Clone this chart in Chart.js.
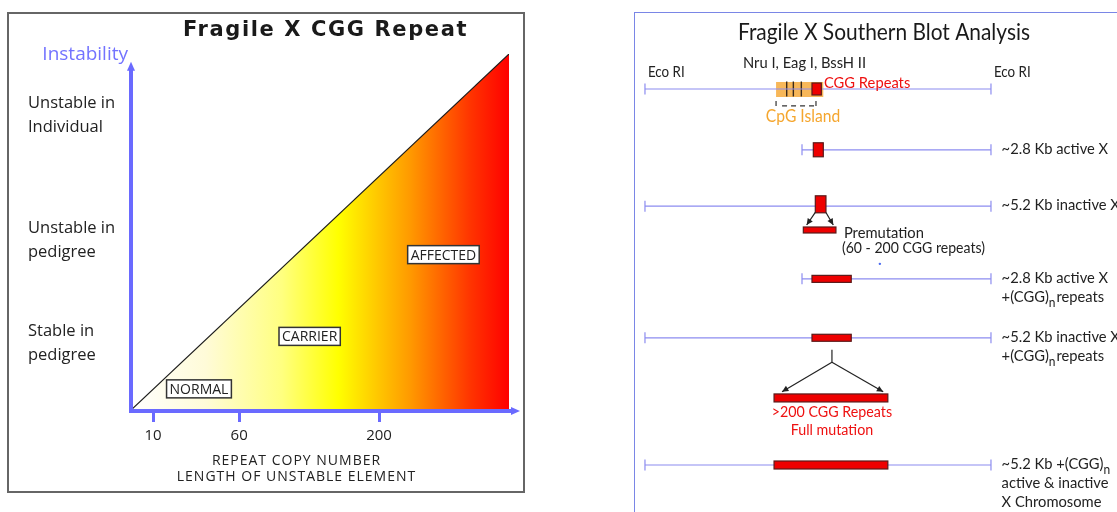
<!DOCTYPE html>
<html>
<head>
<meta charset="utf-8">
<script src="https://cdn.jsdelivr.net/npm/chart.js@4.4.1/dist/chart.umd.min.js"></script>
<style>
    body { margin: 0; background: #fff; }
    #page { position: relative; width: 1117px; height: 512px; overflow: hidden; }
    #leftFrame { position: absolute; left: 7px; top: 12px; width: 514px; height: 477px; border: 2px solid #666; }
    #rightFrame { position: absolute; left: 634px; top: 12px; width: 500px; height: 520px;
        border-left: 1.5px solid #7a86e6; border-top: 1.5px solid #7a86e6; }
    canvas { position: absolute; top: 0; }
    #repeatChart { left: 0; }
    #blotChart { left: 560px; }
</style>
</head>
<body>
<div id="page">
    <div id="leftFrame"></div>
    <div id="rightFrame"></div>
    <canvas id="repeatChart" width="560" height="512"></canvas>
    <canvas id="blotChart" width="557" height="512"></canvas>
</div>
<script>
    /*******************************************************************
     * data - left: instability against repeat copy number (schematic 0-100 axes)
     *******************************************************************/
    var repeatTickLabels = ['10', '60', '200'];
    var repeatTickAt = [6.1, 28.8, 65.7];
    var stabilityLabels = [['Stable in', 'pedigree'], ['Unstable in', 'pedigree'], ['Unstable in', 'Individual']];
    var stabilityAt = [19, 47.8, 82.8];
    var riskX = [0, 100];
    var riskY = [0, 100];
    var zoneNames = ['NORMAL', 'CARRIER', 'AFFECTED'];
    var zoneX = [18.2, 47.4, 82.7];
    var zoneY = [6.2, 20.9, 43.8];

    /*******************************************************************
     * data - right: Southern blot fragments (x in kb from Eco RI, y = lane)
     *******************************************************************/
    var fragmentFrom = [0, 2.36, 0, 2.36, 0, 0];
    var fragmentTo = [5.2, 5.2, 5.2, 5.2, 5.2, 5.2];
    var fragmentLane = [0, 0.97, 1.87, 3.03, 3.97, 6.0];
    var fragmentLabels = [
        [],
        ['~2.8 Kb active X'],
        ['~5.2 Kb inactive X'],
        ['~2.8 Kb active X', '+(CGG){n}repeats'],
        ['~5.2 Kb inactive X', '+(CGG){n}repeats'],
        ['~5.2 Kb +(CGG){n}', 'active & inactive', 'X Chromosome']
    ];
    var siteKb = [2.13, 2.23, 2.35];          // Nru I, Eag I, BssH II
    var islandFrom = 1.97;
    var islandTo = 2.68;
    var repeatFrom = [2.51, 2.53, 2.56, 2.38, 2.51, 2.51, 1.94, 1.94];
    var repeatTo = [2.65, 2.68, 2.72, 2.87, 3.10, 3.10, 3.65, 3.65];
    var repeatLane = [0, 0.97, 1.84, 2.25, 3.03, 3.97, 4.93, 6.0];
    var strayDot = [{ x: 3.53, y: 2.79 }];

    /*******************************************************************
     * styles
     *******************************************************************/
    var CHART_FONT = "'Open Sans', 'Noto Sans', sans-serif";
    var BLOT_FONT = "Lato, 'Open Sans', sans-serif";
    var SQUEEZE = 0.92;
    var AXIS_BLUE = '#6a6aff';
    var LINE_BLUE = '#8c8cf0';
    var BOX_RED = '#ee0000';
    var repeatBoxHeight = [12, 14, 17, 6, 7, 7, 8, 8];

    function riskGradient(context) {
        var area = context.chart.chartArea;
        if (!area) {
            return '#ffff00';
        }
        var g = context.chart.ctx.createLinearGradient(area.left, 0, area.right, 0);
        g.addColorStop(0, '#ffffff');
        g.addColorStop(0.2, '#fffbd8');
        g.addColorStop(0.4, '#ffff80');
        g.addColorStop(0.55, '#ffff00');
        g.addColorStop(0.74, '#ff9900');
        g.addColorStop(0.9, '#ff3300');
        g.addColorStop(1, '#ff0000');
        return g;
    }

    function arrowHead(ctx, x1, y1, x2, y2, size) {
        var a = Math.atan2(y2 - y1, x2 - x1);
        ctx.beginPath();
        ctx.moveTo(x2, y2);
        ctx.lineTo(x2 - size * Math.cos(a - 0.45), y2 - size * Math.sin(a - 0.45));
        ctx.lineTo(x2 - size * Math.cos(a + 0.45), y2 - size * Math.sin(a + 0.45));
        ctx.closePath();
        ctx.fill();
    }

    function arrow(ctx, x1, y1, x2, y2) {
        ctx.beginPath();
        ctx.moveTo(x1, y1);
        ctx.lineTo(x2, y2);
        ctx.stroke();
        arrowHead(ctx, x1, y1, x2, y2, 7);
    }

    // slightly condensed text, to get close to the narrow face of the original
    function blotText(ctx, text, x, y, size, align, color) {
        ctx.save();
        ctx.translate(x, y);
        ctx.scale(SQUEEZE, 1);
        ctx.font = size + 'px ' + BLOT_FONT;
        ctx.textAlign = align;
        ctx.textBaseline = 'middle';
        ctx.fillStyle = color;
        ctx.fillText(text, 0, 0);
        ctx.restore();
    }

    // left aligned text with a subscript "n" wherever {n} appears
    function richText(ctx, text, x, y, size, color) {
        var parts = text.split('{n}');
        var cx = 0;
        ctx.save();
        ctx.translate(x, y);
        ctx.scale(SQUEEZE, 1);
        ctx.textAlign = 'left';
        ctx.textBaseline = 'middle';
        ctx.fillStyle = color;
        for (var i = 0; i < parts.length; i++) {
            ctx.font = size + 'px ' + BLOT_FONT;
            ctx.fillText(parts[i], cx, 0);
            cx += ctx.measureText(parts[i]).width;
            if (i < parts.length - 1) {
                ctx.font = (size - 3) + 'px ' + BLOT_FONT;
                ctx.fillText('n', cx, 6);
                cx += ctx.measureText('n').width + 1;
            }
        }
        ctx.restore();
    }

    /*******************************************************************
     * left chart
     *******************************************************************/
    var repeatDecor = {
        id: 'repeatDecor',
        afterDatasetsDraw: function (chart) {
            var ctx = chart.ctx;
            var xs = chart.scales.x;
            var ys = chart.scales.y;
            var area = chart.chartArea;
            var ox = xs.getPixelForValue(0) + 1;
            var oy = ys.getPixelForValue(0);
            var yTip = ys.getPixelForValue(97.8);
            var xTip = xs.getPixelForValue(102.9);
            ctx.save();
            ctx.strokeStyle = AXIS_BLUE;
            ctx.fillStyle = AXIS_BLUE;
            ctx.lineWidth = 4;
            ctx.beginPath();
            ctx.moveTo(ox, oy + 2);
            ctx.lineTo(ox, yTip + 6);
            ctx.moveTo(ox - 2, oy);
            ctx.lineTo(xTip - 6, oy);
            ctx.stroke();
            ctx.beginPath();
            ctx.moveTo(ox, yTip);
            ctx.lineTo(ox - 4, yTip + 9);
            ctx.lineTo(ox + 4, yTip + 9);
            ctx.closePath();
            ctx.fill();
            ctx.beginPath();
            ctx.moveTo(xTip, oy);
            ctx.lineTo(xTip - 9, oy - 4);
            ctx.lineTo(xTip - 9, oy + 4);
            ctx.closePath();
            ctx.fill();

            // zone boxes
            ctx.font = '14px ' + CHART_FONT;
            ctx.textAlign = 'center';
            ctx.textBaseline = 'middle';
            for (var i = 0; i < zoneNames.length; i++) {
                var px = xs.getPixelForValue(zoneX[i]);
                var py = ys.getPixelForValue(zoneY[i]);
                var w = ctx.measureText(zoneNames[i]).width + 6;
                ctx.fillStyle = '#ffffff';
                ctx.fillRect(px - w / 2, py - 9, w, 18);
                ctx.strokeStyle = '#333';
                ctx.lineWidth = 1.5;
                ctx.strokeRect(px - w / 2, py - 9, w, 18);
                ctx.fillStyle = '#222';
                ctx.fillText(zoneNames[i], px, py + 1);
            }

            // titles
            var cx = (area.left + area.right) / 2;
            ctx.fillStyle = '#1a1a1a';
            ctx.font = 'bold 21px "DejaVu Sans", sans-serif';
            ctx.letterSpacing = '1.6px';
            ctx.fillText('Fragile X CGG Repeat', cx + 6, 31);
            ctx.letterSpacing = '1px';
            ctx.font = '14px ' + CHART_FONT;
            ctx.fillStyle = '#222';
            ctx.fillText('REPEAT COPY NUMBER', cx - 23, 461);
            ctx.fillText('LENGTH OF UNSTABLE ELEMENT', cx - 23, 477);
            ctx.letterSpacing = '0px';
            ctx.textAlign = 'right';
            ctx.fillStyle = '#7373ff';
            ctx.font = '19px ' + CHART_FONT;
            ctx.fillText('Instability', ox - 3, 55);
            ctx.restore();
        }
    };

    var repeatChart = new Chart(document.getElementById('repeatChart').getContext('2d'), {
        type: 'line',
        data: {
            datasets: [{
                data: riskX.map(function (x, i) { return { x: x, y: riskY[i] }; }),
                fill: 'origin',
                backgroundColor: riskGradient,
                borderColor: '#1a1a1a',
                borderWidth: 1.2,
                pointRadius: 0,
                tension: 0
            }]
        },
        options: {
            responsive: false,
            animation: false,
            layout: { autoPadding: false, padding: { left: 28, top: 54, right: 51, bottom: 0 } },
            plugins: {
                legend: { display: false },
                tooltip: { enabled: false }
            },
            scales: {
                x: {
                    type: 'linear',
                    min: 0,
                    max: 100,
                    afterBuildTicks: function (scale) {
                        scale.ticks = repeatTickAt.map(function (v) { return { value: v }; });
                    },
                    afterFit: function (scale) { scale.height = 101; },
                    grid: { display: true, drawOnChartArea: false, drawTicks: true, tickLength: 11, color: AXIS_BLUE, lineWidth: 3 },
                    border: { display: false },
                    ticks: {
                        autoSkip: false,
                        maxRotation: 0,
                        padding: 5,
                        color: '#222',
                        font: { family: CHART_FONT, size: 15 },
                        callback: function (v, i) { return repeatTickLabels[i]; }
                    }
                },
                y: {
                    type: 'linear',
                    min: 0,
                    max: 100,
                    afterBuildTicks: function (scale) {
                        scale.ticks = stabilityAt.map(function (v) { return { value: v }; });
                    },
                    afterFit: function (scale) { scale.width = 102; },
                    grid: { display: false },
                    border: { display: false },
                    ticks: {
                        autoSkip: false,
                        crossAlign: 'far',
                        padding: 0,
                        color: '#222',
                        font: { family: CHART_FONT, size: 16.5, lineHeight: 1.45 },
                        callback: function (v, i) { return stabilityLabels[i]; }
                    }
                }
            }
        },
        plugins: [repeatDecor]
    });

    /*******************************************************************
     * right chart
     *******************************************************************/
    var blotDecor = {
        id: 'blotDecor',
        beforeDatasetsDraw: function (chart) {
            var ctx = chart.ctx;
            var xs = chart.scales.x;
            var ys = chart.scales.y;
            var y0 = ys.getPixelForValue(0);
            ctx.save();
            ctx.fillStyle = 'rgba(246, 170, 60, 0.85)';
            ctx.fillRect(xs.getPixelForValue(islandFrom), y0 - 7, xs.getPixelForValue(islandTo) - xs.getPixelForValue(islandFrom), 15);
            ctx.restore();
        },
        afterDatasetsDraw: function (chart) {
            var ctx = chart.ctx;
            var xs = chart.scales.x;
            var ys = chart.scales.y;
            var i, j;
            ctx.save();

            // repeat boxes
            ctx.fillStyle = BOX_RED;
            ctx.strokeStyle = '#5a1a1a';
            ctx.lineWidth = 1.2;
            for (i = 0; i < repeatFrom.length; i++) {
                var x1 = xs.getPixelForValue(repeatFrom[i]);
                var x2 = xs.getPixelForValue(repeatTo[i]);
                var yc = ys.getPixelForValue(repeatLane[i]);
                var h = repeatBoxHeight[i];
                ctx.fillRect(x1, yc - h / 2, x2 - x1, h);
                ctx.strokeRect(x1, yc - h / 2, x2 - x1, h);
            }

            // CpG island bracket
            ctx.strokeStyle = '#333';
            ctx.lineWidth = 1.2;
            var bx1 = xs.getPixelForValue(islandFrom);
            var bx2 = xs.getPixelForValue(2.57);
            var by1 = ys.getPixelForValue(0.19);
            var by2 = ys.getPixelForValue(0.27);
            ctx.beginPath();
            ctx.moveTo(bx1, by1);
            ctx.lineTo(bx1, by2);
            ctx.moveTo(bx2, by1);
            ctx.lineTo(bx2, by2);
            ctx.stroke();
            ctx.setLineDash([5, 4]);
            ctx.beginPath();
            ctx.moveTo(bx1 + 6, by2);
            ctx.lineTo(bx2, by2);
            ctx.stroke();
            ctx.setLineDash([]);

            // expansion arrows
            ctx.strokeStyle = '#222';
            ctx.fillStyle = '#222';
            arrow(ctx, xs.getPixelForValue(2.56), ys.getPixelForValue(1.97), xs.getPixelForValue(2.43), ys.getPixelForValue(2.17));
            arrow(ctx, xs.getPixelForValue(2.72), ys.getPixelForValue(1.97), xs.getPixelForValue(2.83), ys.getPixelForValue(2.17));
            ctx.beginPath();
            ctx.moveTo(xs.getPixelForValue(2.81), ys.getPixelForValue(4.16));
            ctx.lineTo(xs.getPixelForValue(2.81), ys.getPixelForValue(4.36));
            ctx.stroke();
            arrow(ctx, xs.getPixelForValue(2.81), ys.getPixelForValue(4.36), xs.getPixelForValue(2.06), ys.getPixelForValue(4.83));
            arrow(ctx, xs.getPixelForValue(2.81), ys.getPixelForValue(4.36), xs.getPixelForValue(3.58), ys.getPixelForValue(4.83));

            // labels
            blotText(ctx, 'Eco RI', xs.getPixelForValue(0.045), ys.getPixelForValue(-0.27), 14.5, 'left', '#222');
            blotText(ctx, 'Eco RI', xs.getPixelForValue(5.245), ys.getPixelForValue(-0.27), 14.5, 'left', '#222');
            blotText(ctx, 'Nru I, Eag I, BssH II', xs.getPixelForValue(1.473), ys.getPixelForValue(-0.415), 16, 'left', '#222');
            blotText(ctx, 'CGG Repeats', xs.getPixelForValue(2.69), ys.getPixelForValue(-0.096), 16, 'left', '#ee1111');
            blotText(ctx, 'CpG Island', xs.getPixelForValue(2.375), ys.getPixelForValue(0.447), 17, 'center', '#f5a62e');
            blotText(ctx, '>200 CGG Repeats', xs.getPixelForValue(2.81), ys.getPixelForValue(5.15), 15.5, 'center', '#ee1111');
            blotText(ctx, 'Full mutation', xs.getPixelForValue(2.81), ys.getPixelForValue(5.44), 15.5, 'center', '#ee1111');
            blotText(ctx, 'Premutation', xs.getPixelForValue(2.99), ys.getPixelForValue(2.30), 16, 'left', '#222');
            blotText(ctx, '(60 - 200 CGG repeats)', xs.getPixelForValue(2.96), ys.getPixelForValue(2.54), 15.3, 'left', '#222');
            for (i = 0; i < fragmentLabels.length; i++) {
                for (j = 0; j < fragmentLabels[i].length; j++) {
                    richText(ctx, fragmentLabels[i][j], xs.getPixelForValue(5.36), ys.getPixelForValue(fragmentLane[i]) - 1 + j * 19, 16, '#222');
                }
            }

            // title, fitted to the width of the original
            ctx.font = '24px ' + BLOT_FONT;
            var tw = ctx.measureText('Fragile X Southern Blot Analysis').width;
            ctx.save();
            ctx.translate(324, 32);
            ctx.scale(292 / tw, 1);
            ctx.textAlign = 'center';
            ctx.textBaseline = 'middle';
            ctx.fillStyle = '#1a1a1a';
            ctx.fillText('Fragile X Southern Blot Analysis', 0, 0);
            ctx.restore();
            ctx.restore();
        }
    };

    var fragmentSets = fragmentFrom.map(function (from, i) {
        return {
            data: [{ x: from, y: fragmentLane[i] }, { x: fragmentTo[i], y: fragmentLane[i] }],
            showLine: true,
            borderColor: LINE_BLUE,
            borderWidth: 1.2,
            pointStyle: 'line',
            pointRotation: 90,
            pointRadius: 5.5,
            pointBorderColor: LINE_BLUE,
            pointBorderWidth: 1.2
        };
    });

    var blotChart = new Chart(document.getElementById('blotChart').getContext('2d'), {
        type: 'scatter',
        data: {
            datasets: fragmentSets.concat([
                {
                    data: siteKb.map(function (x) { return { x: x, y: 0 }; }),
                    pointStyle: 'line',
                    pointRotation: 90,
                    pointRadius: 7.5,
                    pointBorderColor: '#3a2a1a',
                    pointBorderWidth: 1.4
                },
                {
                    data: strayDot,
                    pointRadius: 1.2,
                    pointBackgroundColor: '#4a6af0',
                    pointBorderWidth: 0
                }
            ])
        },
        options: {
            responsive: false,
            animation: false,
            layout: { autoPadding: false, padding: 0 },
            plugins: {
                legend: { display: false },
                tooltip: { enabled: false }
            },
            scales: {
                x: { type: 'linear', min: -1.277, max: 7.094, display: false },
                y: { type: 'linear', min: -1.42, max: 6.75, reverse: true, display: false }
            }
        },
        plugins: [blotDecor]
    });
</script>
</body>
</html>
